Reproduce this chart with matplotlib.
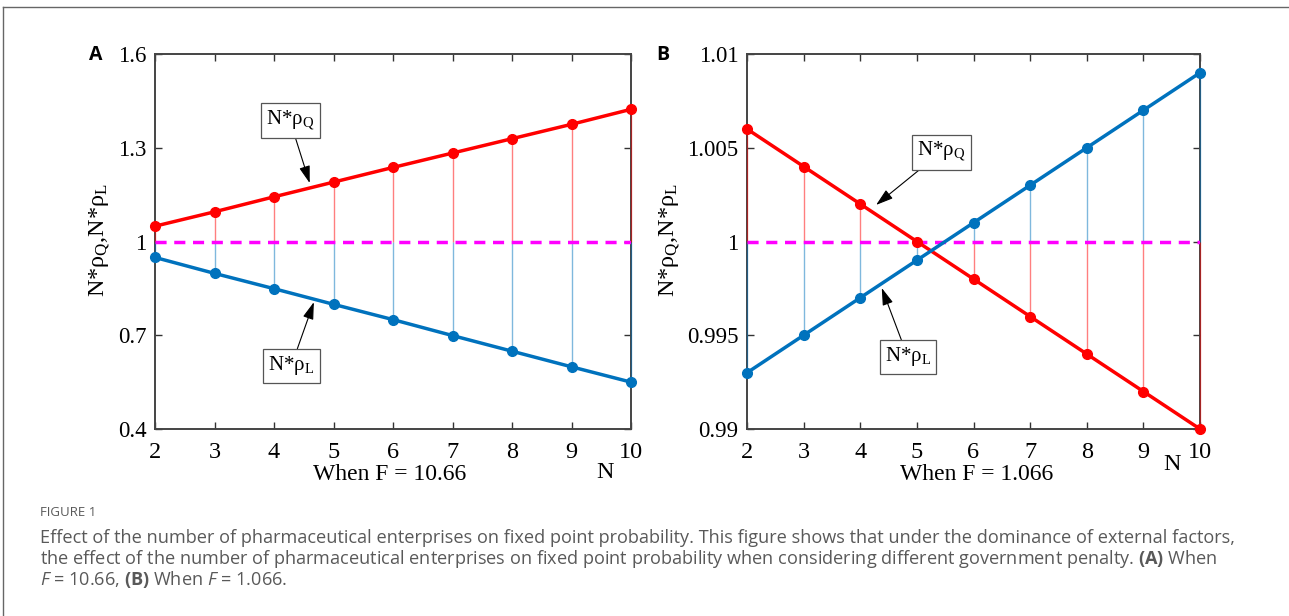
import matplotlib
matplotlib.use('Agg')
import matplotlib.pyplot as plt
from matplotlib.lines import Line2D

plt.rcParams['font.family'] = ['Liberation Serif', 'DejaVu Serif']
plt.rcParams['mathtext.fontset'] = 'custom'
plt.rcParams['mathtext.rm'] = 'Liberation Serif'
plt.rcParams['mathtext.it'] = 'Open Sans:italic'
plt.rcParams['mathtext.bf'] = 'Open Sans:bold'

# data
N = [2, 3, 4, 5, 6, 7, 8, 9, 10]
a_rhoQ = [1.049, 1.095, 1.143, 1.190, 1.237, 1.283, 1.329, 1.375, 1.423]
a_rhoL = [0.949, 0.898, 0.849, 0.799, 0.750, 0.699, 0.649, 0.599, 0.550]
b_rhoQ = [1.006, 1.004, 1.002, 1.000, 0.998, 0.996, 0.994, 0.992, 0.990]
b_rhoL = [0.993, 0.995, 0.997, 0.999, 1.001, 1.003, 1.005, 1.007, 1.009]

a_yticks = [0.4, 0.7, 1.0, 1.3, 1.6]
a_ylabels = ['0.4', '0.7', '1', '1.3', '1.6']
b_yticks = [0.99, 0.995, 1.0, 1.005, 1.01]
b_ylabels = ['0.99', '0.995', '1', '1.005', '1.01']

RED = '#ff0000'
BLUE = '#0072bd'
W, H = 1289, 616

fig = plt.figure(figsize=(W / 100, H / 100), dpi=100)


def px(x, y):
    return x / W, 1 - y / H


def panel(rect, q, l, yticks, ylabels, qbox, qtip, lbox, ltip):
    ax = fig.add_axes(rect)
    ax.vlines(N, [min(v, 1) for v in q], [max(v, 1) for v in q], color=RED,
              lw=1, alpha=0.5, zorder=2.6, clip_on=False)
    ax.vlines(N, [min(v, 1) for v in l], [max(v, 1) for v in l], color=BLUE,
              lw=1, alpha=0.5, zorder=2.6, clip_on=False)
    ax.axhline(1, color='#ff00ff', lw=2.5, ls=(0, (3.2, 2.2)), zorder=2.7)
    ax.plot(N, q, '-o', color=RED, lw=2.5, ms=7, zorder=3, clip_on=False)
    ax.plot(N, l, '-o', color=BLUE, lw=2.5, ms=7, zorder=3, clip_on=False)
    ax.set_xlim(2, 10)
    ax.set_ylim(yticks[0], yticks[-1])
    ax.set_xticks(N)
    ax.set_yticks(yticks)
    ax.set_yticklabels(ylabels)
    ax.tick_params(direction='in', top=True, right=True, length=5, width=1,
                   color='#333333')
    ax.tick_params(axis='x', labelsize=17.5, pad=9)
    ax.tick_params(axis='y', labelsize=16.5, pad=6)
    for s in ax.spines.values():
        s.set_color('#444444')
        s.set_linewidth(1.4)
    bbox = dict(boxstyle='square,pad=0.25', fc='white', ec='#555555', lw=0.9)
    arr = dict(arrowstyle='-|>,head_length=0.7,head_width=0.22', color='black',
               lw=0.8, shrinkA=0, shrinkB=0)
    ax.annotate('N*ρ$_\\mathrm{Q}$', xy=qtip, xytext=qbox, fontsize=15,
                ha='center', va='center', bbox=bbox, arrowprops=arr, zorder=5)
    ax.annotate('N*ρ$_\\mathrm{L}$', xy=ltip, xytext=lbox, fontsize=15,
                ha='center', va='center', bbox=bbox, arrowprops=arr, zorder=5)
    return ax


panel([155 / W, 1 - 429 / H, 476 / W, 375 / H], a_rhoQ, a_rhoL, a_yticks, a_ylabels,
      (4.27, 1.386), (4.6, 1.187), (4.29, 0.602), (4.67, 0.806))
panel([747 / W, 1 - 429 / H, 453 / W, 375 / H], b_rhoQ, b_rhoL, b_yticks, b_ylabels,
      (5.43, 1.00477), (4.28, 1.00195), (4.84, 0.99384), (4.38, 0.99752))

ylab = 'N*ρ$_\\mathrm{Q}$,N*ρ$_\\mathrm{L}$'
fig.text(*px(100, 240), ylab, rotation=90, ha='center', va='center', fontsize=17.5)
fig.text(*px(670, 240), ylab, rotation=90, ha='center', va='center', fontsize=17.5)
fig.text(*px(390, 474), 'When F = 10.66', ha='center', va='center', fontsize=17)
fig.text(*px(977, 474), 'When F = 1.066', ha='center', va='center', fontsize=17)
fig.text(*px(605, 472), 'N', ha='center', va='center', fontsize=17.5)
fig.text(*px(1172, 465), 'N', ha='center', va='center', fontsize=17.5)

fig.text(*px(96, 55), 'A', ha='center', va='center', fontsize=14,
         fontweight='bold', family='Open Sans')
fig.text(*px(663, 55), 'B', ha='center', va='center', fontsize=14,
         fontweight='bold', family='Open Sans')

cap = '#595959'
fig.text(*px(40, 513), 'FIGURE 1', ha='left', va='center', fontsize=9.5,
         family='Open Sans', color=cap)
lines = [
    'Effect of the number of pharmaceutical enterprises on fixed point probability. '
    'This figure shows that under the dominance of external factors,',
    'the effect of the number of pharmaceutical enterprises on fixed point probability '
    'when considering different government penalty. $\\mathbf{(A)}$ When',
    '$F$ = 10.66, $\\mathbf{(B)}$ When $F$ = 1.066.',
]
for i, t in enumerate(lines):
    fig.text(*px(40, 538 + 21 * i), t, ha='left', va='center', fontsize=13.1,
             family='Open Sans', color=cap)

# page frame (top and left edges)
fig.add_artist(Line2D([3 / W, 1], [1 - 7 / H, 1 - 7 / H], color='#666666', lw=1))
fig.add_artist(Line2D([3 / W, 3 / W], [0, 1 - 7 / H], color='#666666', lw=1))

fig.savefig('out.png', dpi=100)
